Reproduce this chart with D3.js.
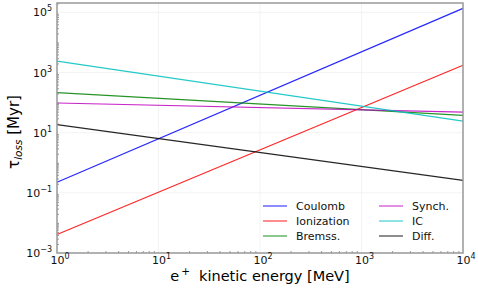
<!DOCTYPE html>
<html>
<head>
<meta charset="utf-8">
<script src="https://cdn.jsdelivr.net/npm/d3@7"></script>
<style>
  body { margin: 0; background: #fff; }
  text { font-family: "DejaVu Sans", sans-serif; }
</style>
</head>
<body>
<div id="chart"></div>
<script>
// loss timescales, straight lines in log-log, values read at E = 1 and 1e4 MeV
const names = ['Coulomb', 'Ionization', 'Bremss.', 'Synch.', 'IC', 'Diff.'];
const colors = ['#0000ff', '#ff0000', '#008000', '#bf00bf', '#00bfbf', '#000000'];
const energies = [1, 1e4];
const tauCoulomb = [0.225, 1.36e5];
const tauIoniz = [0.0041, 1750];
const tauBrems = [215, 37.7];
const tauSynch = [97, 48.6];
const tauIC = [2380, 24.4];
const tauDiff = [18.5, 0.26];
const series = [tauCoulomb, tauIoniz, tauBrems, tauSynch, tauIC, tauDiff];

const xTicks = [1, 10, 100, 1000, 10000];
const yTicks = [1e-3, 1e-1, 1e1, 1e3, 1e5];

const width = 478, height = 288;
const margin = { left: 57, right: 15, top: 3, bottom: 35 };

const svg = d3.select('#chart').append('svg')
  .attr('width', width)
  .attr('height', height);

const x = d3.scaleLog()
  .domain([1, 1e4])
  .range([margin.left, width - margin.right]);

const y = d3.scaleLog()
  .domain([1e-3, 2.05e5])
  .range([height - margin.bottom, margin.top]);

// faint grid
svg.append('g').selectAll('line')
  .data(xTicks)
  .enter().append('line')
  .attr('x1', d => x(d)).attr('x2', d => x(d))
  .attr('y1', margin.top).attr('y2', height - margin.bottom)
  .attr('stroke', '#f0f0f0').attr('stroke-width', 0.8);
svg.append('g').selectAll('line')
  .data(yTicks)
  .enter().append('line')
  .attr('x1', margin.left).attr('x2', width - margin.right)
  .attr('y1', d => y(d)).attr('y2', d => y(d))
  .attr('stroke', '#f0f0f0').attr('stroke-width', 0.8);

// lines
const line = d3.line()
  .x((d, i) => x(energies[i]))
  .y(d => y(d));

svg.append('g').selectAll('path')
  .data(series)
  .enter().append('path')
  .attr('d', line)
  .attr('fill', 'none')
  .attr('stroke', (d, i) => colors[i])
  .attr('stroke-width', 1.2)
  .attr('stroke-opacity', 0.85);

// axes, ticks inward
const xMinor = [];
const yMinor = [];
for (let e = 0; e < 4; e++) for (let k = 2; k < 10; k++) xMinor.push(k * Math.pow(10, e));
for (let e = -3; e < 5; e++) for (let k = 2; k < 10; k++) yMinor.push(k * Math.pow(10, e));
for (let e = -2; e <= 4; e += 2) yMinor.push(Math.pow(10, e));
yMinor.push(2e5);

const xAxis = d3.axisTop(x).tickValues(xMinor).tickSize(2).tickFormat('');
svg.append('g')
  .attr('transform', `translate(0,${height - margin.bottom})`)
  .call(xAxis)
  .call(g => g.select('.domain').remove())
  .call(g => g.selectAll('line').attr('stroke', '#555').attr('stroke-width', 0.6));

const yAxis = d3.axisRight(y).tickValues(yMinor).tickSize(2).tickFormat('');
svg.append('g')
  .attr('transform', `translate(${margin.left},0)`)
  .call(yAxis)
  .call(g => g.select('.domain').remove())
  .call(g => g.selectAll('line').attr('stroke', '#555').attr('stroke-width', 0.6));

// frame
svg.append('rect')
  .attr('x', margin.left).attr('y', margin.top)
  .attr('width', width - margin.left - margin.right)
  .attr('height', height - margin.top - margin.bottom)
  .attr('fill', 'none')
  .attr('stroke', '#999')
  .attr('stroke-width', 1.5);

// tick labels as 10^n
function pow10(sel) {
  sel.append('tspan').text('10');
  sel.append('tspan')
    .attr('font-size', 8)
    .attr('dy', -5)
    .text(d => String(Math.round(Math.log10(d))).replace('-', '\u2212'));
}

svg.append('g').selectAll('text')
  .data(xTicks)
  .enter().append('text')
  .attr('x', d => x(d) + 3)
  .attr('y', height - margin.bottom + 11)
  .attr('text-anchor', 'middle')
  .attr('font-size', 11)
  .attr('fill', '#111')
  .call(pow10);

svg.append('g').selectAll('text')
  .data(yTicks)
  .enter().append('text')
  .attr('x', margin.left - 5)
  .attr('y', d => y(d) + 4)
  .attr('text-anchor', 'end')
  .attr('font-size', 11)
  .attr('fill', '#111')
  .call(pow10);

// axis labels
const xl = svg.append('text')
  .attr('x', (margin.left + width - margin.right) / 2)
  .attr('y', height - 7)
  .attr('text-anchor', 'middle')
  .attr('font-size', 14.5);
xl.append('tspan').text('e');
xl.append('tspan').attr('font-size', 10.5).attr('dx', 2).attr('dy', -6).text('+');
xl.append('tspan').attr('dx', 9).attr('dy', 6).text('kinetic energy [MeV]');

const yl = svg.append('text')
  .attr('transform', `translate(19,${(margin.top + height - margin.bottom) / 2 + 4}) rotate(-90)`)
  .attr('text-anchor', 'middle')
  .attr('font-size', 15);
yl.append('tspan').text('\u03c4');
yl.append('tspan').attr('font-size', 10.5).attr('font-style', 'italic').attr('dy', 3).text('loss');
yl.append('tspan').attr('dy', -3).text(' [Myr]');

// legend, two columns
const legend = svg.append('g').selectAll('g')
  .data(names)
  .enter().append('g')
  .attr('transform', (d, i) => `translate(${i < 3 ? 263 : 379},${206 + (i % 3) * 15})`);

legend.append('line')
  .attr('x1', 0).attr('x2', 24)
  .attr('stroke', (d, i) => colors[i])
  .attr('stroke-width', 1.5)
  .attr('stroke-opacity', 0.6);

legend.append('text')
  .attr('x', 33)
  .attr('y', 4)
  .attr('font-size', 11)
  .attr('fill', '#111')
  .text(d => d);
</script>
</body>
</html>
